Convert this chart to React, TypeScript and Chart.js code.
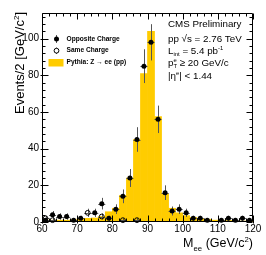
import React, { useEffect, useRef } from "react";
import { Chart, registerables } from "chart.js";

Chart.register(...registerables);

// Bin centres of the 2 GeV/c^2 histogram bins (60-120)
const BIN_CENTERS = [61, 63, 65, 67, 69, 71, 73, 75, 77, 79, 81, 83, 85, 87, 89, 91, 93, 95, 97, 99, 101, 103, 105, 107, 109, 111, 113, 115, 117, 119];
// Pythia Z -> ee (pp) expectation
const PYTHIA = [1.0, 1.0, 1.0, 1.0, 1.2, 2.0, 2.0, 2.2, 3.0, 5.6, 7.5, 14.5, 24, 45, 81, 104, 57.5, 15.5, 7.5, 5, 3.5, 2.5, 2, 1.5, 1, 1, 0.8, 0.6, 0.5, 0.5];
// Opposite-charge data counts
const OPPOSITE = [1, 4, 3, 3, 1, 2, 0, 5, 10, 2, 7, 14, 24, 45, 85, 98, 56, 16, 6, 7, 5, 2, 2, 1, 0, 1, 2, 1, 2, 1];
// Same-charge data counts
const SAME = [2, 1, 0, 0, 0, 0, 5, 0, 3, 0, 0, 1, 0, 1, 0, 0, 0, 0, 0, 0, 0, 0, 0, 0, 0, 0, 0, 0, 0, 0];

const X_TICKS = [60, 70, 80, 90, 100, 110, 120];
const Y_TICKS = [0, 20, 40, 60, 80, 100];
const X_MIN = 60, X_MAX = 120, Y_MIN = 0, Y_MAX = 114;
const X_MINOR_STEP = 2, Y_MINOR_STEP = 4;

const LEGEND = ["Opposite Charge", "Same Charge", "Pythia: Z \u2192 ee (pp)"];

const FONT = "'Liberation Sans', Arial, Helvetica, sans-serif";
const YELLOW = "#FFCC00";

type Seg = { t: string; s?: number; dy?: number; stackNext?: boolean };

function drawRich(ctx: CanvasRenderingContext2D, x: number, y: number, segs: Seg[], size: number, weight = "normal") {
  let cx = x;
  let stackW = 0;
  for (let i = 0; i < segs.length; i++) {
    const sg = segs[i];
    const fs = size * (sg.s ?? 1);
    ctx.font = `${weight} ${fs}px ${FONT}`;
    ctx.fillText(sg.t, cx, y + (sg.dy ?? 0) * size);
    const w = ctx.measureText(sg.t).width;
    if (sg.stackNext) {
      stackW = w;
    } else {
      cx += Math.max(w, stackW);
      stackW = 0;
    }
  }
  return cx - x;
}

function richWidth(ctx: CanvasRenderingContext2D, segs: Seg[], size: number, weight = "normal") {
  let w = 0;
  let stackW = 0;
  for (const sg of segs) {
    ctx.font = `${weight} ${size * (sg.s ?? 1)}px ${FONT}`;
    const m = ctx.measureText(sg.t).width;
    if (sg.stackNext) stackW = m;
    else { w += Math.max(m, stackW); stackW = 0; }
  }
  return w;
}

const decor = {
  id: "cmsDecor",
  afterDatasetDraw(chart: any, args: any) {
    if (args.index !== 0) return;
    const ctx: CanvasRenderingContext2D = chart.ctx;
    const xs = chart.scales.x, ys = chart.scales.y;
    const half = (BIN_CENTERS[1] - BIN_CENTERS[0]) / 2;
    ctx.save();
    ctx.strokeStyle = "#555";
    ctx.lineWidth = 1;
    const drawErr = (vals: number[]) => {
      vals.forEach((v, i) => {
        if (!v) return;
        const c = BIN_CENTERS[i];
        const e = Math.sqrt(v);
        const px = Math.round(xs.getPixelForValue(c)) + 0.5;
        const py = ys.getPixelForValue(v);
        ctx.beginPath();
        ctx.moveTo(px, ys.getPixelForValue(v + e));
        ctx.lineTo(px, ys.getPixelForValue(Math.max(0, v - e)));
        ctx.moveTo(xs.getPixelForValue(c - half), Math.round(py) + 0.5);
        ctx.lineTo(xs.getPixelForValue(c + half), Math.round(py) + 0.5);
        ctx.stroke();
      });
    };
    drawErr(SAME);
    drawErr(OPPOSITE);
    ctx.restore();
  },
  afterDraw(chart: any) {
    const ctx: CanvasRenderingContext2D = chart.ctx;
    const xs = chart.scales.x, ys = chart.scales.y;
    const a = chart.chartArea;
    const L = Math.round(a.left) + 0.5, R = Math.round(a.right) - 0.5;
    const T = Math.round(a.top) + 0.5, B = Math.round(a.bottom) - 0.5;
    ctx.save();
    ctx.strokeStyle = "#000";
    ctx.lineWidth = 1;
    ctx.beginPath();
    ctx.rect(L, T, R - L, B - T);
    ctx.stroke();

    ctx.beginPath();
    // x ticks (bottom & top, inside)
    for (let v = X_MIN; v <= X_MAX + 1e-9; v += X_MINOR_STEP) {
      const major = X_TICKS.includes(v);
      const px = Math.round(xs.getPixelForValue(v)) + 0.5;
      const len = major ? 6 : 3;
      ctx.moveTo(px, B + (major ? 2 : 0));
      ctx.lineTo(px, B - len);
      ctx.moveTo(px, T);
      ctx.lineTo(px, T + len);
    }
    // y ticks (left & right, inside)
    for (let v = Y_MIN; v <= Y_MAX + 1e-9; v += Y_MINOR_STEP) {
      const major = Y_TICKS.includes(v);
      const py = Math.round(ys.getPixelForValue(v)) + 0.5;
      const len = major ? 6 : 3;
      ctx.moveTo(L - (major ? 2 : 0), py);
      ctx.lineTo(L + len, py);
      ctx.moveTo(R, py);
      ctx.lineTo(R - len, py);
    }
    ctx.stroke();

    ctx.fillStyle = "#000";
    ctx.textBaseline = "alphabetic";
    ctx.textAlign = "left";

    // Axis titles
    const ySegs: Seg[] = [{ t: "Events/2 [GeV/c" }, { t: "2", s: 0.62, dy: -0.42 }, { t: "]" }];
    const ySize = 13;
    const yW = richWidth(ctx, ySegs, ySize);
    ctx.save();
    ctx.translate(24, a.top - 1);
    ctx.rotate(-Math.PI / 2);
    drawRich(ctx, -yW, 0, ySegs, ySize);
    ctx.restore();

    const xSegs: Seg[] = [{ t: "M" }, { t: "ee", s: 0.62, dy: 0.28 }, { t: " (GeV/c" }, { t: "2", s: 0.62, dy: -0.42 }, { t: ")" }];
    const xSize = 12.5;
    const xW = richWidth(ctx, xSegs, xSize);
    drawRich(ctx, a.right - xW, 247, xSegs, xSize);

    // Legend
    const lx = 56;
    const rows = [40.7, 52.3, 64.3];
    ctx.strokeStyle = "#555";
    ctx.beginPath();
    ctx.moveTo(lx + 0.5, 35); ctx.lineTo(lx + 0.5, 43);
    ctx.moveTo(lx + 0.5, 47.5); ctx.lineTo(lx + 0.5, 54);
    ctx.stroke();
    ctx.fillStyle = "#000";
    ctx.beginPath();
    ctx.arc(lx + 0.5, 39, 2.5, 0, Math.PI * 2);
    ctx.fill();
    ctx.strokeStyle = "#000";
    ctx.fillStyle = "#fff";
    ctx.beginPath();
    ctx.arc(lx + 0.5, 50.7, 2.4, 0, Math.PI * 2);
    ctx.fill();
    ctx.stroke();
    ctx.fillStyle = YELLOW;
    ctx.fillRect(48.5, 59, 15, 7.5);
    ctx.fillStyle = "#000";
    LEGEND.forEach((txt, i) => {
      ctx.font = `bold 6.6px ${FONT}`;
      ctx.fillText(txt, 66.5, rows[i]);
    });

    // CMS text
    const tx = 168;
    const ts = 9.8;
    drawRich(ctx, tx, 27.3, [{ t: "CMS Preliminary" }], ts);
    drawRich(ctx, tx, 42, [{ t: "pp \u221As = 2.76 TeV" }], ts);
    drawRich(ctx, tx, 54, [{ t: "L" }, { t: "int", s: 0.6, dy: 0.25 }, { t: " = 5.4 pb" }, { t: "-1", s: 0.6, dy: -0.4 }], ts);
    drawRich(ctx, tx, 66, [{ t: "p" }, { t: "T", s: 0.6, dy: 0.25, stackNext: true }, { t: "e", s: 0.6, dy: -0.4 }, { t: " \u2265 20 GeV/c" }], ts);
    drawRich(ctx, tx, 78.7, [{ t: "|\u03B7" }, { t: "e", s: 0.6, dy: -0.4 }, { t: "| < 1.44" }], ts);
    ctx.restore();
  },
};

export default function App() {
  const ref = useRef<HTMLCanvasElement>(null);
  useEffect(() => {
    if (!ref.current) return;
    const chart = new Chart(ref.current, {
      type: "bar",
      data: {
        datasets: [
          {
            type: "bar",
            label: LEGEND[2],
            data: BIN_CENTERS.map((x, i) => ({ x, y: PYTHIA[i] })),
            backgroundColor: YELLOW,
            borderWidth: 0,
            barPercentage: 1,
            categoryPercentage: 1,
            order: 3,
          } as any,
          {
            type: "scatter",
            label: LEGEND[1],
            data: BIN_CENTERS.map((x, i) => ({ x, y: SAME[i] })).filter((p) => p.y > 0),
            pointStyle: "circle",
            pointRadius: 2.4,
            backgroundColor: "rgba(255,255,255,0)",
            borderColor: "#000",
            borderWidth: 1,
            order: 2,
            clip: false,
          } as any,
          {
            type: "scatter",
            label: LEGEND[0],
            data: BIN_CENTERS.map((x, i) => ({ x, y: OPPOSITE[i] })).filter((p) => p.y > 0),
            pointStyle: "circle",
            pointRadius: 2.5,
            backgroundColor: "#000",
            borderColor: "#000",
            borderWidth: 0,
            order: 1,
            clip: false,
          } as any,
        ],
      },
      options: {
        responsive: false,
        animation: false,
        devicePixelRatio: 1,
        layout: { padding: { left: 0, top: 13, right: 13, bottom: 0 } },
        plugins: { legend: { display: false }, tooltip: { enabled: false } },
        scales: {
          x: {
            type: "linear",
            min: X_MIN,
            max: X_MAX,
            offset: false,
            grid: { display: false, drawTicks: false },
            border: { display: false },
            afterBuildTicks: (s: any) => { s.ticks = X_TICKS.map((v) => ({ value: v })); },
            afterFit: (s: any) => { s.height = 33; },
            ticks: {
              autoSkip: false,
              maxRotation: 0,
              padding: 1,
              color: "#000",
              font: { family: FONT, size: 10 },
              callback: (v: any) => String(v),
            },
          },
          y: {
            type: "linear",
            min: Y_MIN,
            max: Y_MAX,
            grid: { display: false, drawTicks: false },
            border: { display: false },
            afterBuildTicks: (s: any) => { s.ticks = Y_TICKS.map((v) => ({ value: v })); },
            afterFit: (s: any) => { s.width = 42; },
            ticks: {
              padding: 3,
              color: "#000",
              font: { family: FONT, size: 10 },
              callback: (v: any) => String(v),
            },
          },
        },
      },
      plugins: [decor],
    });
    return () => chart.destroy();
  }, []);
  return (
    <div style={{ position: "absolute", left: 0, top: 0, width: 266, height: 255, background: "#fff" }}>
      <canvas ref={ref} width={266} height={255} style={{ display: "block" }} />
    </div>
  );
}
